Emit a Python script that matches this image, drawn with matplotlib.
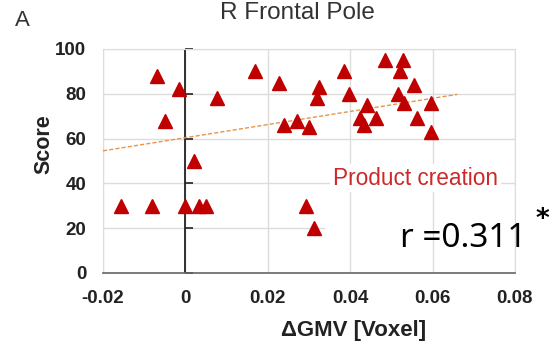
import matplotlib.pyplot as plt
from matplotlib.patches import Rectangle
import numpy as np

# data
gmv = [-0.0156, -0.008, 0.0, 0.0034, 0.0051, 0.002, -0.0068, -0.005, -0.0015,
       0.0076, 0.0168, 0.0227, 0.024, 0.027, 0.030, 0.0325, 0.032, 0.0385,
       0.0397, 0.044, 0.0423, 0.0434, 0.0463, 0.0484, 0.0527, 0.0522, 0.0554,
       0.0515, 0.053, 0.0563, 0.0595, 0.0595, 0.0293, 0.0313]
score = [30, 30, 30, 30, 30, 50, 88, 68, 82,
         78, 90, 85, 66, 68, 65, 83, 78, 90,
         80, 75, 69, 66, 69, 95, 95, 90, 84,
         80, 76, 69, 76, 63, 30, 20]

# regression line as drawn in the figure
fit_x = [-0.02, 0.066]
fit_slope = 293.0
fit_intercept = 60.4

xticks = [-0.02, 0, 0.02, 0.04, 0.06, 0.08]
xticklabels = ["-0.02", "0", "0.02", "0.04", "0.06", "0.08"]
yticks = [0, 20, 40, 60, 80, 100]

plt.rcParams['font.family'] = ['Liberation Sans', 'DejaVu Sans']

fig = plt.figure(figsize=(5.55, 3.44), dpi=100)
ax = fig.add_axes([0.1856, 0.2064, 0.7423, 0.6512])

ax.set_xlim(-0.02, 0.08)
ax.set_ylim(0, 100)
ax.set_xticks(xticks)
ax.set_xticklabels(xticklabels)
ax.set_yticks(yticks)
ax.tick_params(length=0, labelsize=13.5, pad=12)
for lab in ax.get_xticklabels() + ax.get_yticklabels():
    lab.set_fontweight('bold')
    lab.set_color('#222222')

# grid drawn by hand so the r-box can hide only the horizontal line
grid_col = '#dcdcdc'
for y in yticks:
    ax.axhline(y, color=grid_col, lw=1.0, zorder=0.5)
ax.add_patch(Rectangle((0.539, 0.071), 0.47, 0.16, transform=ax.transAxes,
                       facecolor='white', edgecolor='none', zorder=0.7))
for x in xticks:
    ax.axvline(x, color=grid_col, lw=1.0, zorder=0.9)

for s in ['left', 'top', 'right']:
    ax.spines[s].set_color(grid_col)
ax.spines['bottom'].set_color('#666666')
ax.spines['bottom'].set_linewidth(1.2)

# y axis crossing at x = 0
ax.axvline(0, color='#222222', lw=1.3, zorder=2)
ax.plot(np.zeros(len(yticks)), yticks, ls='none', marker=1, ms=6,
        mew=1.2, color='#222222', clip_on=False, zorder=2)

fx = np.array(fit_x)
ax.plot(fx, fit_intercept + fit_slope * fx, ls=(0, (3, 1.5)), lw=1.0,
        color='#e8944a', zorder=3)

ax.plot(gmv, score, ls='none', marker='^', ms=10.5, color='#c00000',
        mec='#c00000', zorder=4)

ax.text(0.0559, 42.4, "Product creation", color='#cc2a2a', fontsize=16.3,
        ha='center', va='center', zorder=5,
        bbox=dict(facecolor='white', edgecolor='none', pad=2))

ax.text(0.0522, 11.4, "r =0.311", fontsize=24, family=['Noto Sans', 'DejaVu Sans'],
        ha='left', va='baseline', color='black', zorder=6, clip_on=False)
fig.text(542 / 555, 1 - 220 / 344, "*", fontsize=19, fontweight='bold',
         ha='center', va='center', family=['DejaVu Sans'])

ax.set_xlabel("ΔGMV [Voxel]", fontsize=16, fontweight='bold', color='#222222')
ax.xaxis.set_label_coords(0.607, -0.212)
ax.set_ylabel("Score", fontsize=15.5, fontweight='bold', color='#222222')
ax.yaxis.set_label_coords(-0.118, 0.576)

fig.text(297 / 555, 1 - 13 / 344, "R Frontal Pole", fontsize=17.5,
         ha='center', va='center', color='#333333')
fig.text(22 / 555, 1 - 20 / 344, "A", fontsize=16, ha='center', va='center',
         color='#333333')

fig.savefig("out.png", dpi=100)
